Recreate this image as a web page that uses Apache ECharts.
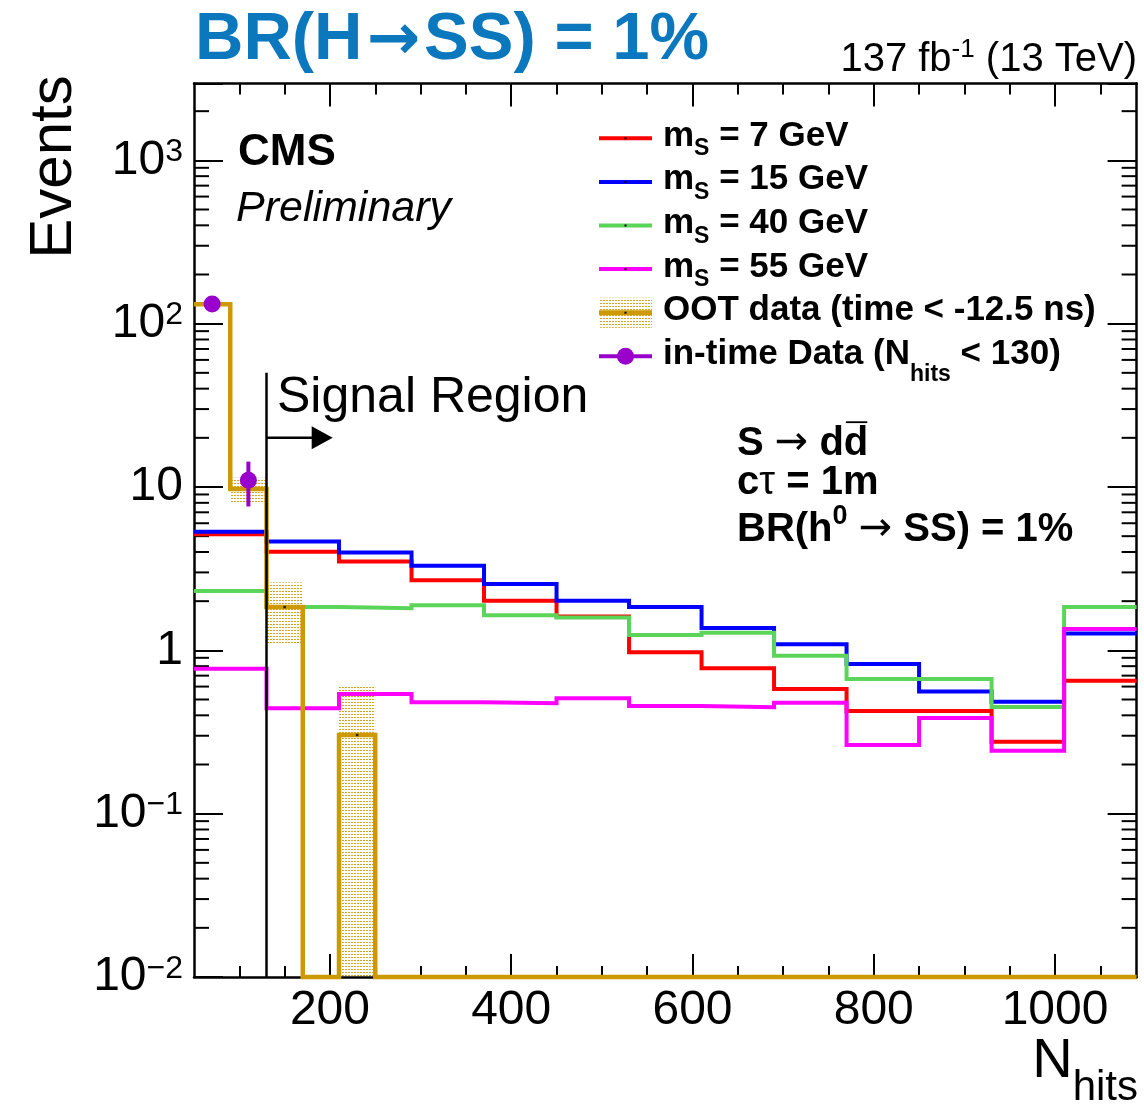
<!DOCTYPE html>
<html><head><meta charset="utf-8"><title>Nhits</title>
<script src="https://cdn.jsdelivr.net/npm/echarts@6.0.0/dist/echarts.min.js"></script>
<style>html,body{margin:0;padding:0;background:#fff;}#chart{width:1144px;height:1104px;}</style>
</head><body><div id="chart"></div>
<script>
// ---------------- data ----------------
const sigEdges = [50,130,210,290,370,450,530,610,690,770,850,930,1010,1090];
const ms7  = [5.14,4.02,3.50,2.69,2.01,1.61,0.974,0.777,0.580,0.425,0.425,0.276,0.652];
const ms15 = [5.33,4.63,3.97,3.30,2.55,2.01,1.84,1.37,1.09,0.825,0.559,0.485,1.27];
const ms40 = [2.31,1.84,1.81,1.89,1.64,1.59,1.24,1.28,0.928,0.668,0.668,0.450,1.84];
const ms55 = [0.772,0.442,0.541,0.481,0.474,0.509,0.457,0.448,0.478,0.263,0.385,0.243,1.35];
const ootEdges = [50,90,130,170,210,250,290,330,370,410,450,490,530,570,610,650,690,730,770,810,850,890,930,970,1010,1050,1090];
const ootValues   = [131.6,9.73,1.84,0,0.303,0,0,0,0,0,0,0,0,0,0,0,0,0,0,0,0,0,0,0,0,0];
const ootBandLow  = [null,7.99,1.08,null,0,null,null,null,null,null,null,null,null,null,null,null,null,null,null,null,null,null,null,null,null,null];
const ootBandHigh = [null,11.4,2.60,null,0.614,null,null,null,null,null,null,null,null,null,null,null,null,null,null,null,null,null,null,null,null,null];
const inTimeX    = [70,110];
const inTimeY    = [132,11.0];
const inTimeLow  = [121,7.6];
const inTimeHigh = [143,14.3];
const signalCut = 130;
const signalLineTop = 50;
const signalArrowY = 20;
const signalArrowEnd = 203;
const xMajorTicks = [200,400,600,800,1000];
const xMinorTicks = [100,150,250,300,350,450,500,550,650,700,750,850,900,950,1050];
const yTickExponents = [-2,-1,0,1,2,3];
const yMinorMultipliers = [2,3,4,5,6,7,8,9];
const seriesNames = ['7 GeV','15 GeV','40 GeV','55 GeV'];

// ---------------- style ----------------
const FONT = '"Liberation Sans", Arial, Helvetica, sans-serif';
const ARROWFONT = '"DejaVu Sans", sans-serif';
const xMin = 50, xMax = 1090, yMin = 0.01, yMax = 2950;
const C = {red:'#ff0000', blue:'#0000ff', green:'#5ad55a', mag:'#ff00ff', gold:'#cc9900', purple:'#9900cc', title:'#0b77bd'};

const pc = document.createElement('canvas'); pc.width = 3; pc.height = 3;
const pg = pc.getContext('2d'); pg.fillStyle = '#d9a41a'; pg.fillRect(0,0,2,1);
const bandPattern = {image: pc, repeat: 'repeat'};

const mctx = document.createElement('canvas').getContext('2d');
function measure(t, f){ mctx.font = f; return mctx.measureText(t).width; }
const BL = 0.33;
function runs(x, baseline, parts, opts){
  opts = opts || {};
  const els = []; let total = 0;
  parts.forEach(p => { p.f = (p.it?'italic ':'') + (p.b?'bold ':'') + p.sz + 'px ' + (p.fam || FONT); p.w = measure(p.t, p.f) + (p.gl||0) + (p.gr||0); total += p.w; });
  let cx = opts.align === 'right' ? x - total : x;
  parts.forEach(p => {
    const by = baseline + (p.dy || 0);
    const tx = cx + (p.gl||0);
    els.push({type:'text', x: tx, y: by - BL*p.sz, z: 100, silent: true,
      style:{text: p.t, font: p.f, fill: p.c || opts.color || '#000', align:'left', verticalAlign:'middle', textAlign:'left', textVerticalAlign:'middle'}});
    if (p.over) els.push({type:'line', z:100, silent:true, shape:{x1: cx+2, y1: by - 0.87*p.sz, x2: cx + p.w - 1, y2: by - 0.87*p.sz}, style:{stroke:'#000', lineWidth: 1.8}});
    cx += p.w;
  });
  return els;
}

function stepData(edges, vals){
  const d = vals.map((v,i) => [edges[i], v > 0 ? v : yMin]);
  const last = vals[vals.length-1];
  d.push([edges[edges.length-1], last > 0 ? last : yMin]);
  return d;
}

function xAx(pos, vals, len, withLabel, withLine){
  return {type:'value', min:xMin, max:xMax, position:pos,
    axisLine:{show:withLine, onZero:false, lineStyle:{color:'#000', width:2.5}},
    axisTick:{show:true, inside:true, length:len, customValues: vals, lineStyle:{color:'#000', width:2}},
    axisLabel: withLabel ? {show:true, customValues: vals, margin:10, color:'#000', fontSize:48, fontFamily:FONT, formatter: v => String(v)} : {show:false},
    splitLine:{show:false}};
}
function yAx(pos, withLabel){
  return {type:'log', logBase:10, min:yMin, max:yMax, position:pos,
    axisLine:{show:true, onZero:false, lineStyle:{color:'#000', width:2.5}},
    axisTick:{show:true, inside:true, length:29, lineStyle:{color:'#000', width:2}},
    axisLabel: withLabel ? {show:true, margin:11, color:'#000',
      formatter: v => {
        const e = Math.log10(v); const r = Math.round(e);
        if (Math.abs(e - r) > 1e-6 || yTickExponents.indexOf(r) < 0) return '';
        if (r === 0) return '{b|1}';
        if (r === 1) return '{b|10}';
        return '{b|10}{s|' + (r < 0 ? '\u2212' + (-r) : r) + '}';
      },
      rich:{ b:{fontSize:48, fontFamily:FONT, color:'#000', lineHeight:48},
             s:{fontSize:32, fontFamily:FONT, color:'#000', lineHeight:20, verticalAlign:'top'} }
    } : {show:false},
    splitLine:{show:false}};
}

const yMinorVals = [];
yTickExponents.forEach(e => yMinorMultipliers.forEach(m => { const v = m*Math.pow(10,e); if (v < yMax) yMinorVals.push(v); }));

const sigColors = [C.red, C.blue, C.green, C.mag];
const sigVals = [ms7, ms15, ms40, ms55];
const series = [];
sigVals.forEach((vals,i) => series.push({
  type:'line', name:seriesNames[i], step:'end', data: stepData(sigEdges, vals), showSymbol:false, symbol:'none',
  lineStyle:{color:sigColors[i], width:4, join:'miter', cap:'butt'}, itemStyle:{color:sigColors[i]}, z:3, clip:false, silent:true
}));
// OOT uncertainty band
const bandData = [];
ootBandLow.forEach((lo,i) => { if (lo !== null) bandData.push([ootEdges[i], ootEdges[i+1], lo > 0 ? lo : yMin, ootBandHigh[i]]); });
series.push({type:'custom', z:2, silent:true, encode:{x:[0,1], y:[2,3]}, data: bandData,
  renderItem:(params, api) => {
    const p0 = api.coord([api.value(0), api.value(3)]);
    const p1 = api.coord([api.value(1), api.value(2)]);
    return {type:'rect', shape:{x:p0[0], y:p0[1], width:p1[0]-p0[0], height:p1[1]-p0[1]}, style:{fill: bandPattern}};
  }});
// OOT line
series.push({type:'line', name:'OOT', step:'end', data: stepData(ootEdges, ootValues), showSymbol:false, symbol:'none',
  lineStyle:{color:C.gold, width:4.5, join:'miter', cap:'butt'}, itemStyle:{color:C.gold}, z:4, clip:false, silent:true});
// OOT bin markers (tiny dots)
const ootDots = [];
ootValues.forEach((v,i) => { if (v > 0) ootDots.push([(ootEdges[i]+ootEdges[i+1])/2, v]); });
series.push({type:'scatter', data: ootDots, symbol:'rect', symbolSize:2.5, itemStyle:{color:'#000'}, z:5, silent:true});
// in-time data error bars
series.push({type:'custom', z:6, silent:true, encode:{x:0, y:[1,2]},
  data: inTimeX.map((x,i) => [x, inTimeLow[i], inTimeHigh[i]]),
  renderItem:(params, api) => {
    const a = api.coord([api.value(0), api.value(1)]);
    const b = api.coord([api.value(0), api.value(2)]);
    return {type:'line', shape:{x1:a[0], y1:a[1], x2:b[0], y2:b[1]}, style:{stroke:C.purple, lineWidth:4}};
  }});
series.push({type:'scatter', name:'in-time', data: inTimeX.map((x,i) => [x, inTimeY[i]]), symbol:'circle', symbolSize:17,
  itemStyle:{color:C.purple, opacity:1}, z:7, silent:true});
// signal region line + arrow
series.push({type:'custom', z:8, silent:true, encode:{x:[0,3], y:[1,2]},
  data: [[signalCut, signalLineTop, signalArrowY, signalArrowEnd]],
  renderItem:(params, api) => {
    const top = api.coord([api.value(0), api.value(1)]);
    const bot = api.coord([api.value(0), yMin]);
    const a0 = api.coord([api.value(0), api.value(2)]);
    const a1 = api.coord([api.value(3), api.value(2)]);
    const hl = 21, hh = 11.5;
    return {type:'group', children:[
      {type:'line', shape:{x1:top[0], y1:top[1], x2:bot[0], y2:bot[1]}, style:{stroke:'#000', lineWidth:2.5}},
      {type:'line', shape:{x1:a0[0], y1:a0[1], x2:a1[0]-hl+2, y2:a1[1]}, style:{stroke:'#000', lineWidth:2.5}},
      {type:'polygon', shape:{points:[[a1[0]-hl, a1[1]-hh],[a1[0], a1[1]],[a1[0]-hl, a1[1]+hh]]}, style:{fill:'#000'}}
    ]};
  }});
// y minor ticks (log)
series.push({type:'custom', z:1, silent:true, encode:{x:0, y:1},
  data: yMinorVals.map(v => [xMin, v]),
  renderItem:(params, api) => {
    const p = api.coord([xMin, api.value(1)]);
    const q = api.coord([xMax, api.value(1)]);
    return {type:'group', children:[
      {type:'line', shape:{x1:p[0], y1:p[1], x2:p[0]+15, y2:p[1]}, style:{stroke:'#000', lineWidth:2}},
      {type:'line', shape:{x1:q[0]-15, y1:q[1], x2:q[0], y2:q[1]}, style:{stroke:'#000', lineWidth:2}}
    ]};
  }});

// ---------------- graphic texts / legend ----------------
const G = [];
G.push(...runs(195, 63, [{t:'BR(H', sz:67, b:true}, {t:'\u2192', sz:64, b:true, fam:ARROWFONT, gl:4, gr:4}, {t:'SS) = 1%', sz:67, b:true}], {color:C.title}));
G.push(...runs(1137, 73, [{t:'137 fb', sz:40}, {t:'-1', sz:26, dy:-15}, {t:' (13 TeV)', sz:40}], {align:'right'}));
G.push(...runs(238, 167, [{t:'CMS', sz:44, b:true}]));
G.push(...runs(236, 223, [{t:'Preliminary', sz:43, it:true}]));
G.push(...runs(277, 415, [{t:'Signal Region', sz:50}]));
G.push(...runs(737, 457, [{t:'S ', sz:40, b:true}, {t:'\u2192', sz:40, fam:ARROWFONT}, {t:' d', sz:40, b:true}, {t:'d', sz:40, b:true, over:true}]));
G.push(...runs(737, 496, [{t:'c', sz:40, b:true}, {t:'\u03c4', sz:40}, {t:' = 1m', sz:40, b:true}]));
G.push(...runs(737, 543, [{t:'BR(h', sz:40, b:true}, {t:'0', sz:27, b:true, dy:-18}, {t:' ', sz:40, b:true}, {t:'\u2192', sz:40, fam:ARROWFONT}, {t:' SS) = 1%', sz:40, b:true}]));
// axis titles
G.push({type:'text', x:54, y:167, rotation:Math.PI/2, z:100, silent:true,
  style:{text:'Events', font:'60px '+FONT, fill:'#000', align:'center', verticalAlign:'middle', textAlign:'center', textVerticalAlign:'middle'}});
G.push(...runs(1138, 1080, [{t:'N', sz:56}, {t:'hits', sz:42, dy:22}], {align:'right'}));
// legend
const rowY = [138.3, 181.9, 225.5, 269.1, 312.7, 356.3];
const lx0 = 599, lx1 = 652, lxm = 625.5, ltx = 663;
sigColors.forEach((c,i) => {
  G.push({type:'line', z:100, silent:true, shape:{x1:lx0, y1:rowY[i], x2:lx1, y2:rowY[i]}, style:{stroke:c, lineWidth:4}});
  G.push({type:'rect', z:101, silent:true, shape:{x:lxm-1, y:rowY[i]-1, width:2, height:2}, style:{fill:'#000'}});
  G.push(...runs(ltx, rowY[i]+9.4, [{t:'m', sz:35, b:true}, {t:'S', sz:23, b:true, dy:9}, {t:' = '+seriesNames[i], sz:35, b:true}]));
});
G.push({type:'rect', z:100, silent:true, shape:{x:lx0, y:rowY[4]-15, width:lx1-lx0, height:30}, style:{fill:bandPattern}});
G.push({type:'line', z:100, silent:true, shape:{x1:lx0, y1:rowY[4], x2:lx1, y2:rowY[4]}, style:{stroke:C.gold, lineWidth:5}});
G.push({type:'rect', z:101, silent:true, shape:{x:lxm-1, y:rowY[4]-1, width:2, height:2}, style:{fill:'#000'}});
G.push(...runs(ltx, rowY[4]+9.4, [{t:'OOT data (time < -12.5 ns)', sz:35, b:true}]));
G.push({type:'line', z:100, silent:true, shape:{x1:lx0, y1:rowY[5], x2:lx1, y2:rowY[5]}, style:{stroke:C.purple, lineWidth:4}});
G.push({type:'circle', z:101, silent:true, shape:{cx:lxm, cy:rowY[5], r:8.5}, style:{fill:C.purple}});
G.push(...runs(ltx, rowY[5]+9.4, [{t:'in-time Data (N', sz:35, b:true}, {t:'hits', sz:23, b:true, dy:17}, {t:' < 130)', sz:35, b:true}]));

const option = {
  animation:false,
  backgroundColor:'#fff',
  textStyle:{fontFamily:FONT},
  grid:{left:194, right:7.4, top:83.6, bottom:127, containLabel:false, outerBoundsMode:'none', show:false},
  xAxis:[ xAx('bottom', xMajorTicks, 23, true, true), xAx('bottom', xMinorTicks, 11, false, false),
          xAx('top', xMajorTicks, 23, false, true), xAx('top', xMinorTicks, 11, false, false) ],
  yAxis:[ yAx('left', true), yAx('right', false) ],
  series: series,
  graphic: G
};
const chart = echarts.init(document.getElementById('chart'), null, {renderer:'canvas'});
chart.setOption(option);
</script></body></html>
